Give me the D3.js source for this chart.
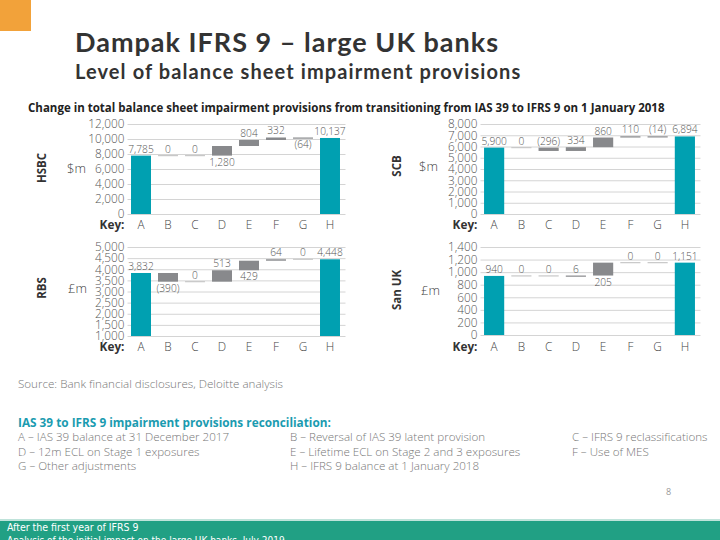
<!DOCTYPE html>
<html><head><meta charset="utf-8">
<script src="https://cdn.jsdelivr.net/npm/d3@7"></script>
<style>
html,body{margin:0;padding:0;background:#fff;}
svg{display:block;}
</style></head>
<body>
<script>
// ---- Data ----
const keys = ["A","B","C","D","E","F","G","H"];
const hsbcValues = [7785, 0, 0, 1280, 804, 332, -64, 10137];
const scbValues  = [5900, 0, -296, 334, 860, 110, -14, 6894];
const rbsValues  = [3832, -390, 0, 513, 429, 64, 0, 4448];
const sanValues  = [940, 0, 0, 6, 205, 0, 0, 1151];
const hsbcTicks = [0, 2000, 4000, 6000, 8000, 10000, 12000];
const scbTicks  = [0, 1000, 2000, 3000, 4000, 5000, 6000, 7000, 8000];
const rbsTicks  = [1000, 1500, 2000, 2500, 3000, 3500, 4000, 4500, 5000];
const sanTicks  = [0, 200, 400, 600, 800, 1000, 1200, 1400];
// label side: 1 = above bar, -1 = below bar
const hsbcLabelSide = [1, 1, 1, -1, 1, 1, -1, 1];
const scbLabelSide  = [1, 1, 1, 1, 1, 1, 1, 1];
const rbsLabelSide  = [1, -1, 1, 1, -1, 1, 1, 1];
const sanLabelSide  = [1, 1, 1, 1, -1, 1, 1, 1];
const legendRows = [
  ["A – IAS 39 balance at 31 December 2017", "B – Reversal of IAS 39 latent provision", "C – IFRS 9 reclassifications"],
  ["D – 12m ECL on Stage 1 exposures", "E – Lifetime ECL on Stage 2 and 3 exposures", "F – Use of MES"],
  ["G – Other adjustments", "H – IFRS 9 balance at 1 January 2018", ""]
];

const W = 720, H = 540;
const TEAL = "#00a0b1", GREY = "#88898c", ZERO = "#c8c8c8";
const FONT = "'Open Sans', 'Noto Sans', sans-serif";
const svg = d3.select("body").append("svg").attr("width", W).attr("height", H);

// header
svg.append("rect").attr("x",0).attr("y",0).attr("width",31).attr("height",31).attr("fill","#f2a23a");
svg.append("text").attr("x",75).attr("y",52).attr("font-family","Lato, 'Open Sans', sans-serif")
  .attr("font-weight","bold").attr("font-size",27).attr("letter-spacing",1).attr("fill","#333")
  .text("Dampak IFRS 9 – large UK banks");
svg.append("text").attr("x",75).attr("y",79).attr("font-family","Lato, 'Open Sans', sans-serif")
  .attr("font-weight","bold").attr("font-size",20).attr("letter-spacing",1.1).attr("fill","#333")
  .text("Level of balance sheet impairment provisions");

svg.append("text").attr("x",28).attr("y",112).attr("font-family",FONT).attr("font-weight","bold")
  .attr("font-size",11.5).attr("fill","#222")
  .text("Change in total balance sheet impairment provisions from transitioning from IAS 39 to IFRS 9 on 1 January 2018");

const fmt = v => v < 0 ? "(" + d3.format(",")(-v) + ")" : d3.format(",")(v);

function panel(cfg) {
  const {values, ticks, sides, x0, x1, y0, y1, bank, unit, bankX, bankY, unitX, keyY} = cfg;
  const g = svg.append("g");
  const x = d3.scaleBand().domain(keys).range([x0, x1]).paddingInner(0.26).paddingOuter(0.13);
  const y = d3.scaleLinear().domain([ticks[0], ticks[ticks.length-1]]).range([y1, y0]);
  // grid
  const yAxis = d3.axisLeft(y).tickValues(ticks).tickSize(-(x1 - x0 + 2)).tickFormat(d3.format(","));
  const ga = g.append("g").attr("transform", `translate(${x0},0)`).call(yAxis);
  ga.select(".domain").remove();
  ga.selectAll(".tick line").attr("stroke","#d4d4d4").attr("stroke-width",1);
  ga.selectAll(".tick text").attr("x",-3).attr("font-family",FONT).attr("font-size",11.8)
    .attr("fill","#555").attr("font-weight",300);
  // waterfall
  let run = 0;
  const bars = values.map((v, i) => {
    let lo, hi, total = (i === 0 || i === values.length - 1);
    if (total) { lo = ticks[0]; hi = v; run = v; }
    else { const s = run; run += v; lo = Math.min(s, run); hi = Math.max(s, run); }
    return {k: keys[i], v, lo, hi, total, side: sides[i]};
  });
  bars.forEach(b => {
    const yt = y(b.hi), yb = y(b.lo);
    const h = Math.max(yb - yt, 1.2);
    g.append("rect").attr("x", x(b.k)).attr("width", x.bandwidth())
      .attr("y", b.v === 0 ? yt - 0.6 : yt).attr("height", h)
      .attr("fill", b.total ? TEAL : (b.v === 0 ? ZERO : GREY));
    const ly = b.side > 0 ? yt - 3 : Math.max(yb, yt + 1) + 10;
    g.append("text").attr("x", x(b.k) + x.bandwidth()/2).attr("y", ly).attr("text-anchor","middle")
      .attr("font-family",FONT).attr("font-size",10.2).attr("font-weight",300).attr("fill","#555").text(fmt(b.v));
  });
  // key row
  g.append("text").attr("x", x0 - 3).attr("y", keyY).attr("text-anchor","end").attr("font-family",FONT)
    .attr("font-weight","bold").attr("font-size",11.8).attr("fill","#333").text("Key:");
  keys.forEach(k => {
    g.append("text").attr("x", x(k) + x.bandwidth()/2).attr("y", keyY).attr("text-anchor","middle")
      .attr("font-family",FONT).attr("font-size",11.8).attr("font-weight",300).attr("fill","#444").text(k);
  });
  g.append("text").attr("transform", `translate(${bankX},${bankY}) rotate(-90)`).attr("text-anchor","middle")
    .attr("font-family",FONT).attr("font-weight","bold").attr("font-size",11.5).attr("fill","#333").text(bank);
  g.append("text").attr("x", unitX).attr("y", bankY + 5).attr("font-family",FONT).attr("font-size",13)
    .attr("font-weight",300).attr("fill","#444").text(unit);
}

panel({values: hsbcValues, ticks: hsbcTicks, sides: hsbcLabelSide, x0: 127.5, x1: 343.5, y0: 124, y1: 214,
  bank: "HSBC", unit: "$m", bankX: 46, bankY: 168, unitX: 67, keyY: 229});
panel({values: scbValues, ticks: scbTicks, sides: scbLabelSide, x0: 480.5, x1: 698.5, y0: 124, y1: 214,
  bank: "SCB", unit: "$m", bankX: 401, bankY: 166, unitX: 419, keyY: 229});
panel({values: rbsValues, ticks: rbsTicks, sides: rbsLabelSide, x0: 127.5, x1: 343.5, y0: 247, y1: 336,
  bank: "RBS", unit: "£m", bankX: 46, bankY: 288, unitX: 68, keyY: 351});
panel({values: sanValues, ticks: sanTicks, sides: sanLabelSide, x0: 480.5, x1: 698.5, y0: 247, y1: 335,
  bank: "San UK", unit: "£m", bankX: 401, bankY: 290, unitX: 421, keyY: 351});

// source & legend
svg.append("text").attr("x",18).attr("y",388).attr("font-family",FONT).attr("font-size",11.6)
  .attr("font-weight",300).attr("fill","#777").text("Source: Bank financial disclosures, Deloitte analysis");
svg.append("text").attr("x",18).attr("y",427).attr("font-family",FONT).attr("font-size",11.8)
  .attr("font-weight","bold").attr("fill","#1b9bb0").text("IAS 39 to IFRS 9 impairment provisions reconciliation:");
const colX = [18, 290, 572];
legendRows.forEach((row, r) => row.forEach((t, c) => {
  if (!t) return;
  svg.append("text").attr("x", colX[c]).attr("y", 441 + r*14.5).attr("font-family",FONT)
    .attr("font-size",11.6).attr("font-weight",300).attr("fill","#777").text(t);
}));
svg.append("text").attr("x",666).attr("y",495).attr("font-family",FONT).attr("font-size",9)
  .attr("fill","#999").text("8");

// footer
svg.append("rect").attr("x",0).attr("y",519).attr("width",W).attr("height",2).attr("fill","#bfe3da");
svg.append("rect").attr("x",0).attr("y",521).attr("width",W).attr("height",19).attr("fill","#21a084");
const NF = "'Liberation Sans Narrow', 'DejaVu Sans Condensed', 'Liberation Sans', sans-serif";
svg.append("text").attr("x",7).attr("y",531).attr("font-family",NF).attr("font-size",10.5).attr("fill","#fff")
  .text("After the first year of IFRS 9");
svg.append("text").attr("x",7).attr("y",544).attr("font-family",NF).attr("font-size",10).attr("fill","#fff")
  .text("Analysis of the initial impact on the large UK banks, July 2019");
</script>
</body></html>
